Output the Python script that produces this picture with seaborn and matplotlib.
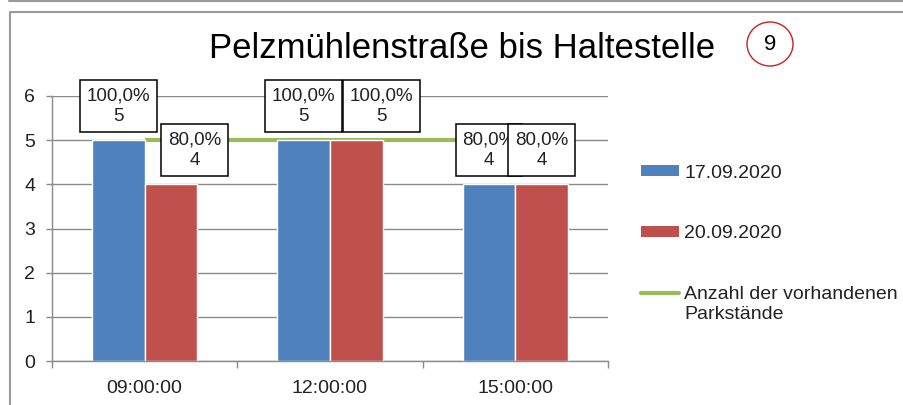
import matplotlib
matplotlib.use("Agg")
import matplotlib.pyplot as plt
from matplotlib.lines import Line2D
from matplotlib.patches import Patch, Ellipse
import numpy as np
import pandas as pd
import seaborn as sns

# --- data -------------------------------------------------------------
zeiten = ["09:00:00", "12:00:00", "15:00:00"]
datum_1 = "17.09.2020"
datum_2 = "20.09.2020"
belegt_1 = [5, 5, 4]
belegt_2 = [4, 5, 4]
parkstaende = [5, 5, 5]
linien_label = "Anzahl der vorhandenen\nParkstände"
titel = "Pelzmühlenstraße bis Haltestelle"
nummer = "9"

# --- style ------------------------------------------------------------
BLUE = "#4F81BD"
RED = "#C0504D"
GREEN = "#9BBB59"
GRID = "#8a8a8a"
FRAME = "#9a9a9a"
TEXT = "#222222"

sns.set_theme(style="white")
plt.rcParams["font.family"] = ["Liberation Sans", "DejaVu Sans"]

df = pd.DataFrame({
    "Zeit": zeiten * 2,
    "Datum": [datum_1] * len(zeiten) + [datum_2] * len(zeiten),
    "Anzahl": belegt_1 + belegt_2,
})

fig = plt.figure(figsize=(9.04, 4.05), dpi=100)
W, H = 904, 405
ax = fig.add_axes([52 / W, 44 / H, 556 / W, 265 / H])

sns.barplot(data=df, x="Zeit", y="Anzahl", hue="Datum", order=zeiten,
            hue_order=[datum_1, datum_2], palette=[BLUE, RED],
            width=0.57, gap=0, saturation=1, legend=False, ax=ax, zorder=2)

# capacity line from first to last time slot
ax.plot(np.arange(len(zeiten)), parkstaende, color=GREEN, lw=3, zorder=1.8,
        solid_capstyle="butt")

ax.set_xlim(-0.5, len(zeiten) - 0.5)
ax.set_ylim(0, 6)
ax.set_yticks(range(0, 7))
ax.set_xlabel("")
ax.set_ylabel("")
ax.set_axisbelow(True)
ax.yaxis.grid(True, color=GRID, lw=1.0)
ax.xaxis.grid(False)

for s in ["top", "right"]:
    ax.spines[s].set_visible(False)
for s in ["left", "bottom"]:
    ax.spines[s].set_color(GRID)
    ax.spines[s].set_linewidth(1.0)

ax.tick_params(axis="y", left=True, length=4, width=1, color=GRID,
               pad=8, labelsize=14, labelcolor=TEXT)
ax.tick_params(axis="x", which="major", bottom=False, pad=8,
               labelsize=14, labelcolor=TEXT)
ax.set_xticks(np.arange(-0.5, len(zeiten)), minor=True)
ax.tick_params(axis="x", which="minor", bottom=True, length=5, width=1,
               color=GRID)

# value labels: share of capacity and count
label_dx = [[0, 0, 0], [17, 18, 0]]
for k, (cont, werte) in enumerate(zip(ax.containers, [belegt_1, belegt_2])):
    for i, (bar, v) in enumerate(zip(cont, werte)):
        anteil = v / parkstaende[i] * 100
        txt = f"{anteil:.1f}".replace(".", ",") + f"%\n{v}"
        ax.annotate(txt, (bar.get_x() + bar.get_width() / 2, v),
                    xytext=(label_dx[k][i], 24.5), textcoords="offset points",
                    ha="center", va="center", multialignment="center",
                    fontsize=13.5, color=TEXT, linespacing=1.32, zorder=5,
                    annotation_clip=False,
                    bbox=dict(boxstyle="square,pad=0.36", fc="white",
                              ec="black", lw=1.1))

# legend
handles = [Patch(facecolor=BLUE, edgecolor="none"),
           Patch(facecolor=RED, edgecolor="none"),
           Line2D([0], [0], color=GREEN, lw=3)]
leg = fig.legend(handles, [datum_1, datum_2, linien_label],
                 loc="upper left", bbox_to_anchor=(624 / W, 1 - 147 / H),
                 frameon=False, fontsize=14, handlelength=1.95,
                 handleheight=0.5, handletextpad=0.25, labelspacing=2.26)
for t in leg.get_texts():
    t.set_color(TEXT)
    t.set_linespacing(1.2)
line_handle = leg.legend_handles[2]
line_handle.set_ydata(np.asarray(line_handle.get_ydata()) + 8.3)

# title and badge
fig.text(462 / W, 1 - 48 / H, titel, ha="center", va="center",
         fontsize=25, color="black")
fig.add_artist(Ellipse((770 / W, 1 - 44 / H), 46 / W, 44 / H,
                       transform=fig.transFigure, fc="white", ec="#cc1f1f",
                       lw=1.0))
fig.text(770 / W, 1 - 44 / H, nummer, ha="center", va="center",
         fontsize=16, color="black")

# outer frame
fig.add_artist(Line2D([9 / W, 1], [1 - 1 / H, 1 - 1 / H], color=FRAME, lw=1.5,
                      transform=fig.transFigure))
fig.add_artist(Line2D([9.5 / W, 9.5 / W, 1], [0, 1 - 12 / H, 1 - 12 / H],
                      color=FRAME, lw=1.5, transform=fig.transFigure))

fig.savefig("out.png", dpi=100)
